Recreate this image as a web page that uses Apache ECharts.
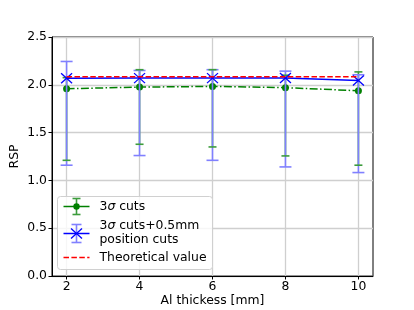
<!DOCTYPE html>
<html><head><meta charset="utf-8">
<script src="https://cdn.jsdelivr.net/npm/echarts@6/dist/echarts.min.js"></script>
<style>html,body{margin:0;padding:0;background:#fff}#c{width:414px;height:310px}</style>
</head><body><div id="c"></div>
<script>
var thickness = [2, 4, 6, 8, 10];
var cut3Mean = [1.959, 1.976, 1.983, 1.970, 1.938];
var cut3Low  = [1.210, 1.378, 1.350, 1.256, 1.159];
var cut3High = [2.075, 2.158, 2.158, 2.100, 2.135];
var posMean  = [2.068, 2.070, 2.070, 2.072, 2.046];
var posLow   = [1.159, 1.260, 1.210, 1.141, 1.082];
var posHigh  = [2.244, 2.150, 2.158, 2.143, 2.105];
var theory   = [2.085, 2.085, 2.085, 2.085, 2.085];
var xTicks = [2, 4, 6, 8, 10];
var yTicks = [0, 0.5, 1.0, 1.5, 2.0, 2.5];

var FONT = 'DejaVu Sans';
var FS = 12.4;
var FONTSTR = FS + 'px "DejaVu Sans"';
function zip3(a, b) { return thickness.map(function (x, i) { return [x, a[i], b[i]]; }); }
function pairs(a) { return thickness.map(function (x, i) { return [x, a[i]]; }); }

function errRender(color, capHalf, drawBar, drawCaps) {
  return function (params, api) {
    var x = api.value(0);
    var lo = api.coord([x, api.value(1)]);
    var hi = api.coord([x, api.value(2)]);
    var st = { stroke: color, lineWidth: 1.6 };
    var ch = [];
    if (drawBar) ch.push({ type: 'line', shape: { x1: lo[0], y1: lo[1], x2: hi[0], y2: hi[1] }, style: st });
    if (drawCaps) {
      ch.push({ type: 'line', shape: { x1: lo[0] - capHalf, y1: lo[1], x2: lo[0] + capHalf, y2: lo[1] }, style: st });
      ch.push({ type: 'line', shape: { x1: hi[0] - capHalf, y1: hi[1], x2: hi[0] + capHalf, y2: hi[1] }, style: st });
    }
    return { type: 'group', children: ch };
  };
}
function xRender(params, api) {
  var p = api.coord([api.value(0), api.value(1)]);
  var st = { stroke: '#0000ff', lineWidth: 1.3 };
  var w = 5.5, h = 5;
  return { type: 'group', children: [
    { type: 'line', shape: { x1: p[0] - w, y1: p[1] - h, x2: p[0] + w, y2: p[1] + h }, style: st },
    { type: 'line', shape: { x1: p[0] - w, y1: p[1] + h, x2: p[0] + w, y2: p[1] - h }, style: st }
  ]};
}

var chart = echarts.init(document.getElementById('c'), null, { renderer: 'canvas' });
var lgX = 57, lgY = 196;
var GC = '#3c9c3c', BC = '#8080ff';
var legendChildren = [
  { type: 'rect', shape: { x: 0, y: 0, width: 155, height: 73, r: 3 }, style: { fill: 'rgba(255,255,255,0.8)', stroke: '#d0d0d0', lineWidth: 1 } },
  { type: 'line', shape: { x1: 6, y1: 10, x2: 32, y2: 10 }, style: { stroke: '#008000', lineWidth: 1.5 } },
  { type: 'line', shape: { x1: 19, y1: 2, x2: 19, y2: 18 }, style: { stroke: GC, lineWidth: 1.6 } },
  { type: 'line', shape: { x1: 15, y1: 2, x2: 23, y2: 2 }, style: { stroke: GC, lineWidth: 1.6 } },
  { type: 'line', shape: { x1: 15, y1: 18, x2: 23, y2: 18 }, style: { stroke: GC, lineWidth: 1.6 } },
  { type: 'circle', shape: { cx: 19, cy: 10, r: 3.2 }, style: { fill: '#008000' } },
  { type: 'text', x: 42, y: 10, style: { text: '3{i|σ} cuts', fill: '#000', font: FONTSTR, verticalAlign: 'middle', rich: { i: { fontStyle: 'italic', fontFamily: FONT, fontSize: FS } } } },
  { type: 'line', shape: { x1: 6, y1: 37, x2: 32, y2: 37 }, style: { stroke: '#0000ff', lineWidth: 1.5 } },
  { type: 'line', shape: { x1: 19, y1: 28, x2: 19, y2: 46 }, style: { stroke: BC, lineWidth: 1.6 } },
  { type: 'line', shape: { x1: 14, y1: 28, x2: 24, y2: 28 }, style: { stroke: BC, lineWidth: 1.6 } },
  { type: 'line', shape: { x1: 14, y1: 46, x2: 24, y2: 46 }, style: { stroke: BC, lineWidth: 1.6 } },
  { type: 'line', shape: { x1: 13.5, y1: 32, x2: 24.5, y2: 42 }, style: { stroke: '#0000ff', lineWidth: 1.3 } },
  { type: 'line', shape: { x1: 13.5, y1: 42, x2: 24.5, y2: 32 }, style: { stroke: '#0000ff', lineWidth: 1.3 } },
  { type: 'text', x: 42, y: 29, style: { text: '3{i|σ} cuts+0.5mm', fill: '#000', font: FONTSTR, verticalAlign: 'middle', rich: { i: { fontStyle: 'italic', fontFamily: FONT, fontSize: FS } } } },
  { type: 'text', x: 42, y: 43, style: { text: 'position cuts', fill: '#000', font: FONTSTR, verticalAlign: 'middle' } },
  { type: 'line', shape: { x1: 6, y1: 61, x2: 32, y2: 61 }, style: { stroke: '#ff0000', lineWidth: 1.5, lineDash: [5.5, 2.4] } },
  { type: 'text', x: 42, y: 61, style: { text: 'Theoretical value', fill: '#000', font: FONTSTR, verticalAlign: 'middle' } }
];
legendChildren.forEach(function (c, i) { c.z = 100 + i; });

chart.setOption({
  animation: false,
  backgroundColor: '#fff',
  grid: { left: 52, right: 41, top: 37, bottom: 34, containLabel: false, outerBoundsMode: 'none',
    show: true, borderColor: '#000', borderWidth: 1, backgroundColor: 'transparent' },
  xAxis: {
    type: 'value', min: 1.6, max: 10.4,
    name: 'Al thickess [mm]', nameLocation: 'middle', nameGap: 19, nameMoveOverlap: false,
    nameTextStyle: { fontFamily: FONT, fontSize: FS, color: '#000' },
    axisLine: { show: true, onZero: false, lineStyle: { color: '#000', width: 1 } },
    axisTick: { show: true, inside: false, length: 3.5, customValues: xTicks, lineStyle: { color: '#000' } },
    axisLabel: { customValues: xTicks, fontFamily: FONT, fontSize: FS, color: '#000', margin: 5 },
    splitLine: { show: true, lineStyle: { color: '#cfcfcf', width: 1.3 } }
  },
  yAxis: {
    type: 'value', min: 0, max: 2.5, interval: 0.5,
    name: 'RSP', nameLocation: 'middle', nameGap: 31, nameMoveOverlap: false,
    nameTextStyle: { fontFamily: FONT, fontSize: FS, color: '#000' },
    axisLine: { show: true, lineStyle: { color: '#000', width: 1 } },
    axisTick: { show: true, length: 3.5, lineStyle: { color: '#000' } },
    axisLabel: { fontFamily: FONT, fontSize: FS, color: '#000', margin: 5, formatter: function (v) { return v.toFixed(1); } },
    splitLine: { show: true, lineStyle: { color: '#cfcfcf', width: 1.3 } }
  },
  series: [
    { name: 'err3bar', type: 'custom', renderItem: errRender(GC, 4, true, false), data: zip3(cut3Low, cut3High), z: 2, silent: true },
    { name: '3σ cuts', type: 'line', data: pairs(cut3Mean), z: 3, symbol: 'circle', symbolSize: 7, showSymbol: true,
      itemStyle: { color: '#008000' }, lineStyle: { color: '#008000', width: 1.5, type: [8, 2.4, 1.5, 2.4] } },
    { name: 'errPos', type: 'custom', renderItem: errRender(BC, 6, true, true), data: zip3(posLow, posHigh), z: 4, silent: true },
    { name: 'err3caps', type: 'custom', renderItem: errRender(GC, 4, false, true), data: zip3(cut3Low, cut3High), z: 4.5, silent: true },
    { name: 'pos', type: 'line', data: pairs(posMean), z: 5, symbol: 'none',
      lineStyle: { color: '#0000ff', width: 1.5 } },
    { name: 'posMarker', type: 'custom', renderItem: xRender, data: pairs(posMean), z: 6, silent: true },
    { name: 'Theoretical value', type: 'line', data: pairs(theory), z: 7, symbol: 'none',
      lineStyle: { color: '#ff0000', width: 1.5, type: [5.5, 2.4] } }
  ],
  graphic: [
    { type: 'group', left: lgX, top: lgY, z: 100, children: legendChildren }
  ]
});
</script></body></html>
